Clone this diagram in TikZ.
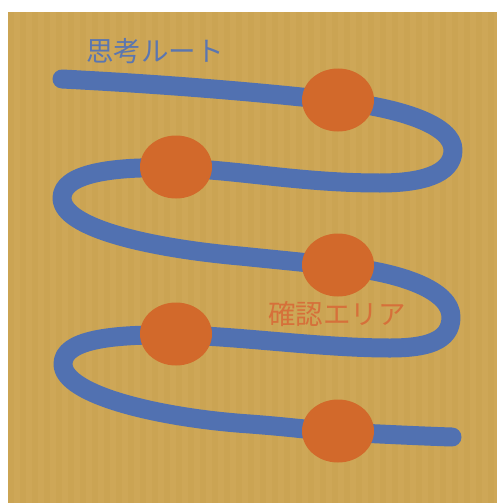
\documentclass[tikz,border=0pt]{standalone}
\usepackage{fontspec}
\newfontfamily\cjk{Noto Sans CJK JP}
\usetikzlibrary{shapes.geometric}
\definecolor{bg}{HTML}{CBA453}
\definecolor{bgstripe}{HTML}{CEA757}
\definecolor{route}{HTML}{5171B1}
\definecolor{spot}{HTML}{D2692B}
\definecolor{routetext}{HTML}{5B76B0}
\definecolor{spottext}{HTML}{D6703A}
\begin{document}
\begin{tikzpicture}[x=1pt,y=-1pt,
  routeline/.style={draw=route,line width=19pt,line cap=round,line join=round},
  spotnode/.style={ellipse,fill=spot,draw=none,minimum width=72pt,minimum height=63pt,inner sep=0pt},
  labeltext/.style={font=\cjk\fontsize{27.5}{28}\selectfont,inner sep=0pt}]
\useasboundingbox (0,0) rectangle (497,503);
\fill[white] (0,0) rectangle (497,503);
\fill[bg] (8,12) rectangle (497,503);
\begin{scope}
  \clip (8,12) rectangle (497,503);
  \foreach \x in {14,26,...,494} \fill[bgstripe] (\x,12) rectangle (\x+6,503);
\end{scope}
% route coordinates
\coordinate (start) at (62,79);
\coordinate (s1) at (338,101);
\coordinate (s2) at (176,168);
\coordinate (s3) at (338,266);
\coordinate (s4) at (176,335);
\coordinate (s5) at (338,432);
\coordinate (finish) at (452,437);
\draw[routeline] (start)
  .. controls (160,84) and (260,92) .. (s1)
  .. controls (400,108) and (453,125) .. (453,150)
  .. controls (453,175) and (420,183) .. (380,183)
  .. controls (300,183) and (240,170) .. (s2)
  .. controls (110,166) and (62,174) .. (62,198)
  .. controls (62,228) and (150,248) .. (240,256)
  .. controls (280,260) and (310,263) .. (s3)
  .. controls (400,272) and (451,290) .. (451,317)
  .. controls (451,342) and (425,348) .. (390,348)
  .. controls (320,348) and (240,336) .. (s4)
  .. controls (110,334) and (63,340) .. (63,364)
  .. controls (63,395) and (160,418) .. (250,424)
  .. controls (290,427) and (310,430) .. (s5)
  .. controls (380,434) and (420,436) .. (finish);
\node[spotnode] (c1) at (338,100) {};
\node[spotnode] (c2) at (176,167) {};
\node[spotnode] (c3) at (338,265) {};
\node[spotnode] (c4) at (176,334) {};
\node[spotnode] (c5) at (338,431) {};
\node[labeltext,text=routetext] (routelabel) at (155,51) {思考ルート};
\node[labeltext,text=spottext] (spotlabel) at (337,314) {確認エリア};
\end{tikzpicture}
\end{document}
